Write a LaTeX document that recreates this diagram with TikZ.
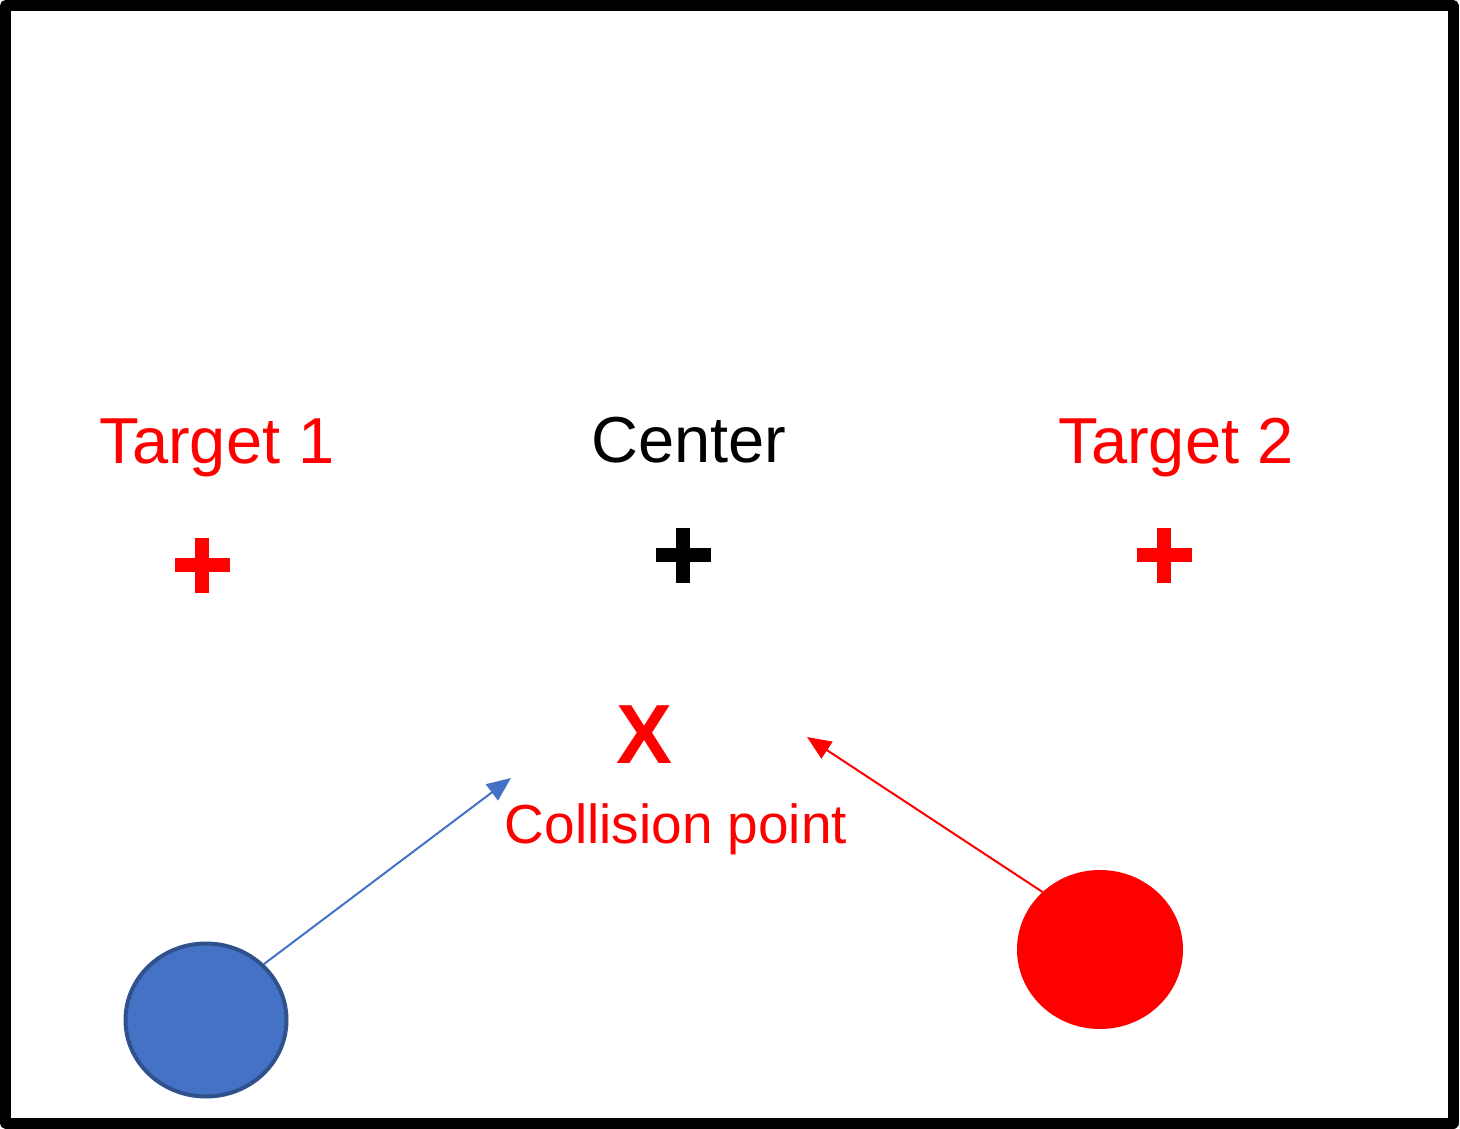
\documentclass[tikz,border=0pt]{standalone}
\usepackage{fontspec}
\setmainfont{Liberation Sans}
\usetikzlibrary{shapes.geometric,arrows.meta}
\definecolor{pblue}{HTML}{4472C4}
\definecolor{pbluedark}{HTML}{2F528F}
\definecolor{pred}{HTML}{FF0000}
\tikzset{
  plusmark/.pic={\fill (-27.5,-7) rectangle (27.5,7); \fill (-7,-27.5) rectangle (7,27.5);},
  lbl/.style={anchor=base, inner sep=0pt, font=\fontsize{65}{76}\selectfont},
  ball/.style={ellipse, inner sep=0pt, minimum width=165pt, minimum height=157pt},
  mover/.style={line width=2pt, -{Triangle[length=24pt,width=20pt]}}
}
\begin{document}
\begin{tikzpicture}[x=1pt,y=-1pt]
\useasboundingbox (0,0) rectangle (1460,1129);
\fill[white] (0,0) rectangle (1460,1129);
\draw[line width=11pt, line join=round] (5.5,5.5) rectangle (1453,1123);

\node[lbl, text=pred] (lt1) at (217,463) {Target 1};
\node[lbl, text=black] (lc) at (689,462) {Center};
\node[lbl, text=pred] (lt2) at (1176,463) {Target 2};

\pic[pred] at (202,565) {plusmark};
\pic[black] at (683,555) {plusmark};
\pic[pred] at (1164,555) {plusmark};

\node[anchor=base, inner sep=0pt, text=pred, font=\fontsize{84}{90}\selectfont\bfseries] (xmark) at (645,763) {X};
\node[anchor=base, inner sep=0pt, text=pred, font=\fontsize{55}{66}\selectfont] (coll) at (676,843) {Collision point};

\node[ball, fill=pblue, draw=pbluedark, line width=4pt, minimum width=161pt, minimum height=153pt] (blue) at (206,1020) {};
\node[ball, fill=pred, minimum width=166pt, minimum height=159pt] (red) at (1100,949.5) {};

\coordinate (bt) at (511,778);
\coordinate (rt) at (807,737);
\draw[mover, pblue] (blue.44) -- (bt);
\draw[mover, pred] (red.135) -- (rt);
\end{tikzpicture}
\end{document}
